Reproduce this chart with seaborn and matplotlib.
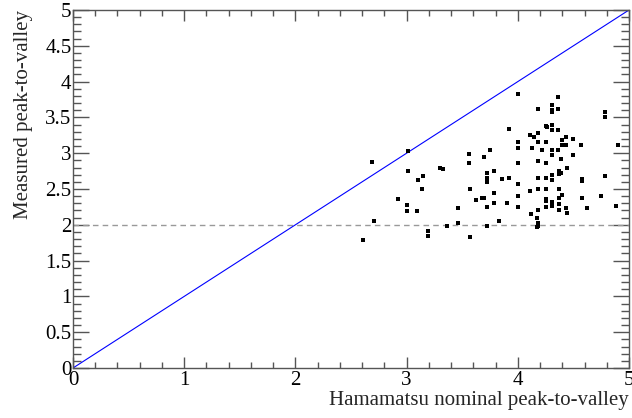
import numpy as np
import pandas as pd
import matplotlib
matplotlib.use("Agg")
import matplotlib.pyplot as plt
from matplotlib.ticker import MultipleLocator
import seaborn as sns

# Hamamatsu nominal peak-to-valley (x) and measured peak-to-valley (y)
nominal = [
    2.69, 3.01, 3.01, 3.75, 3.56, 3.56, 3.70, 3.72, 3.72, 3.72, 3.30, 3.33, 3.15, 3.10, 3.14,
    3.57, 2.92, 3.00, 3.00, 3.09, 3.62, 3.68, 3.70, 3.72, 3.46, 2.71, 3.46, 3.36, 3.72, 3.19,
    3.19, 3.57, 2.61,
    4.00, 4.36, 4.31, 4.31, 4.31, 4.18, 4.36, 4.78, 4.78,
    3.92, 4.25, 4.26, 4.31, 4.36, 4.31,
    4.11, 4.15, 4.18, 4.00, 4.18, 4.25, 4.40, 4.43, 4.50, 4.90,
    4.00, 4.13, 4.22, 4.31, 4.36, 4.40, 4.43, 4.57,
    4.31, 4.50, 4.39, 4.18, 4.25, 4.00, 4.44,
    3.79, 4.37, 4.37, 4.39, 4.31, 3.92, 3.86, 4.18, 4.25, 4.31, 4.58, 4.58, 4.78,
    4.00, 4.11, 4.18, 4.25, 4.37, 3.79, 4.00, 4.40, 4.25, 4.25, 4.37, 4.58, 4.75,
    3.79, 3.90, 4.31, 4.37, 4.00, 4.25, 4.31, 4.43, 4.62, 4.88,
    4.18, 4.37, 4.44, 4.12, 4.17, 3.83, 4.18, 4.18, 4.17,
]
measured = [
    2.88, 3.03, 2.75, 3.04, 2.99, 2.86, 2.94, 2.73, 2.65, 2.60, 2.80, 2.78, 2.68, 2.62, 2.50,
    2.50, 2.36, 2.27, 2.19, 2.19, 2.34, 2.38, 2.37, 2.25, 2.23, 2.05, 2.02, 1.98, 1.98, 1.92,
    1.85, 1.83, 1.79,
    3.83, 3.79, 3.67, 3.60, 3.58, 3.62, 3.62, 3.58, 3.50,
    3.34, 3.38, 3.36, 3.39, 3.32, 3.32,
    3.26, 3.23, 3.28, 3.16, 3.16, 3.16, 3.19, 3.22, 3.20, 3.12,
    3.07, 3.07, 3.04, 3.04, 3.04, 3.12, 3.11, 3.12,
    2.97, 2.98, 2.92, 2.89, 2.87, 2.86, 2.80,
    2.75, 2.75, 2.71, 2.72, 2.69, 2.66, 2.64, 2.65, 2.65, 2.62, 2.64, 2.61, 2.68,
    2.57, 2.47, 2.50, 2.50, 2.50, 2.44, 2.40, 2.42, 2.36, 2.33, 2.37, 2.38, 2.40,
    2.31, 2.31, 2.32, 2.29, 2.25, 2.25, 2.26, 2.24, 2.24, 2.26,
    2.20, 2.20, 2.17, 2.15, 2.10, 2.05, 2.03, 1.99, 1.97,
]
diag_x = [0, 5]
diag_y = [0, 5]
threshold = 2.0
axis_range = [0, 5]

df = pd.DataFrame({"nominal": nominal, "measured": measured})

sns.set_style("ticks")
plt.rcParams["font.family"] = ["Liberation Serif", "DejaVu Serif"]

fig = plt.figure(figsize=(6.32, 4.18), dpi=100)
ax = fig.add_axes([73 / 632, 50 / 418, 556 / 632, 358 / 418])

ax.plot(diag_x, diag_y, color="#0000ff", lw=0.8, zorder=2)
ax.axhline(threshold, color="#999999", lw=1.0, ls=(0, (4, 3)), zorder=1)
sns.scatterplot(data=df, x="nominal", y="measured", ax=ax, marker="s", s=5,
                color="black", edgecolor="black", linewidth=0, zorder=3)

ax.set_xlim(axis_range)
ax.set_ylim(axis_range)
ax.xaxis.set_major_locator(MultipleLocator(1))
ax.xaxis.set_minor_locator(MultipleLocator(0.2))
ax.yaxis.set_major_locator(MultipleLocator(0.5))
ax.yaxis.set_minor_locator(MultipleLocator(0.1))
ax.xaxis.set_major_formatter(plt.FuncFormatter(lambda v, p: f"{v:g}"))
ax.yaxis.set_major_formatter(plt.FuncFormatter(lambda v, p: f"{v:g}"))

for s in ax.spines.values():
    s.set_color("#555555")
    s.set_linewidth(1.0)
    s.set_visible(True)

ax.tick_params(which="both", direction="in", top=True, right=True, colors="#555555",
               labelcolor="black", labelsize=15, width=1.0)
ax.tick_params(axis="x", which="major", length=8, pad=2)
ax.tick_params(axis="x", which="minor", length=4)
ax.tick_params(axis="y", which="major", length=11.5, pad=1)
ax.tick_params(axis="y", which="minor", length=5.8)

ax.set_xlabel("Hamamatsu nominal peak-to-valley", fontsize=15, loc="right", labelpad=1)
ax.set_ylabel("Measured peak-to-valley", fontsize=15, loc="top", labelpad=9)

fig.savefig("out.png", dpi=100)
